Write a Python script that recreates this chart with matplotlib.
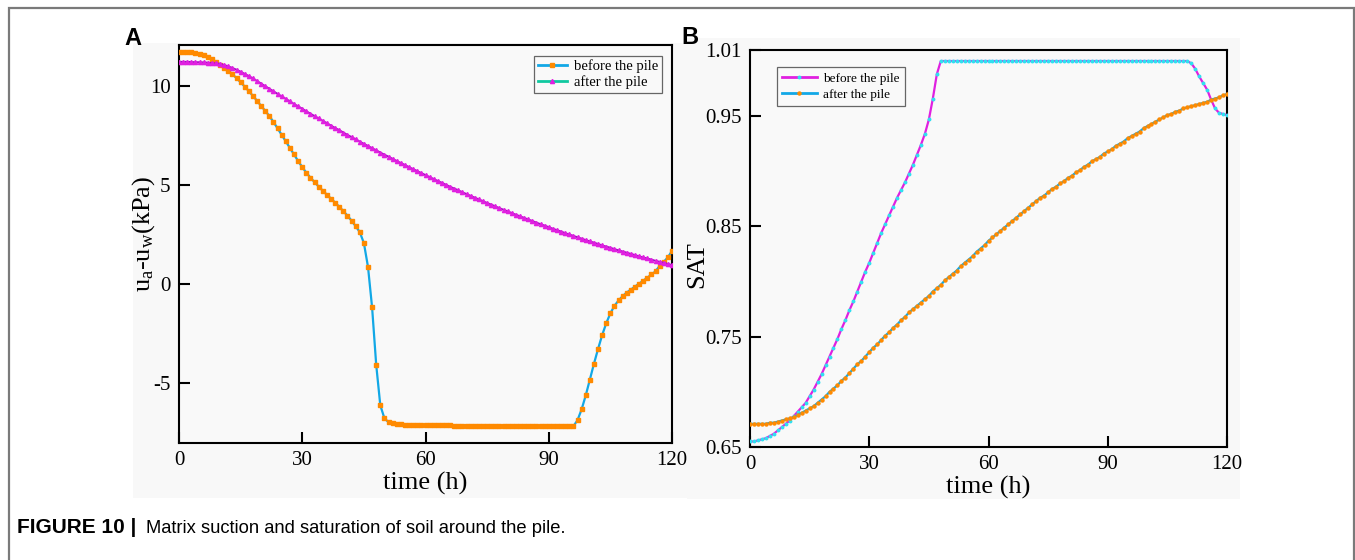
import numpy as np
import matplotlib
matplotlib.use("Agg")
import matplotlib.pyplot as plt
from matplotlib.lines import Line2D
from matplotlib.patches import Rectangle

plt.rcParams['font.family'] = ['Liberation Serif', 'DejaVu Serif']
plt.rcParams['mathtext.fontset'] = 'custom'
plt.rcParams['mathtext.rm'] = 'Liberation Serif'
plt.rcParams['mathtext.it'] = 'Liberation Serif:italic'

# ---------------- data (hourly) ----------------
hours = list(range(0, 121))

# panel A: matrix suction u_a - u_w (kPa)
suction_before = [
    11.70, 11.70, 11.70, 11.68, 11.65, 11.60, 11.53, 11.44, 11.33, 11.20,
    11.06, 10.91, 10.75, 10.57, 10.38, 10.17, 9.95, 9.72, 9.48, 9.23,
    8.97, 8.72, 8.46, 8.16, 7.84, 7.51, 7.18, 6.85, 6.52, 6.19,
    5.88, 5.60, 5.35, 5.12, 4.90, 4.69, 4.49, 4.29, 4.09, 3.88,
    3.66, 3.43, 3.18, 2.90, 2.60, 2.05, 0.85, -1.20, -4.10, -6.15,
    -6.80, -7.00, -7.06, -7.09, -7.11, -7.12, -7.13, -7.13, -7.14, -7.14,
    -7.15, -7.15, -7.15, -7.16, -7.16, -7.16, -7.16, -7.17, -7.17, -7.17,
    -7.17, -7.17, -7.18, -7.18, -7.18, -7.18, -7.18, -7.18, -7.19, -7.19,
    -7.19, -7.19, -7.19, -7.19, -7.19, -7.20, -7.20, -7.20, -7.20, -7.20,
    -7.20, -7.20, -7.20, -7.20, -7.20, -7.20, -7.20, -6.90, -6.35, -5.65,
    -4.85, -4.05, -3.30, -2.60, -2.00, -1.50, -1.12, -0.85, -0.63, -0.45,
    -0.30, -0.15, 0.00, 0.15, 0.30, 0.46, 0.62, 0.90, 1.10, 1.33,
    1.65,
]
suction_after = [
    11.20, 11.20, 11.20, 11.19, 11.18, 11.18, 11.17, 11.16, 11.14, 11.12,
    11.10, 11.04, 10.97, 10.89, 10.80, 10.70, 10.59, 10.48, 10.36, 10.23,
    10.10, 9.97, 9.84, 9.71, 9.58, 9.45, 9.33, 9.20, 9.07, 8.95,
    8.83, 8.70, 8.58, 8.46, 8.34, 8.22, 8.10, 7.98, 7.86, 7.75,
    7.63, 7.51, 7.40, 7.29, 7.17, 7.06, 6.95, 6.84, 6.73, 6.62,
    6.51, 6.41, 6.30, 6.19, 6.09, 5.99, 5.88, 5.78, 5.68, 5.58,
    5.48, 5.38, 5.28, 5.18, 5.09, 4.99, 4.89, 4.80, 4.71, 4.61,
    4.52, 4.43, 4.34, 4.25, 4.16, 4.07, 3.99, 3.90, 3.81, 3.73,
    3.65, 3.56, 3.48, 3.40, 3.32, 3.24, 3.16, 3.08, 3.00, 2.93,
    2.85, 2.77, 2.70, 2.63, 2.55, 2.48, 2.41, 2.34, 2.27, 2.20,
    2.13, 2.07, 2.00, 1.93, 1.87, 1.81, 1.74, 1.68, 1.62, 1.56,
    1.50, 1.44, 1.38, 1.32, 1.27, 1.21, 1.15, 1.10, 1.05, 0.99,
    0.94,
]

# panel B: saturation
sat_before = [
    0.655, 0.655, 0.656, 0.657, 0.658, 0.660, 0.662, 0.665, 0.668, 0.671,
    0.674, 0.678, 0.682, 0.686, 0.690, 0.696, 0.702, 0.709, 0.716, 0.724,
    0.732, 0.740, 0.748, 0.757, 0.765, 0.774, 0.782, 0.791, 0.800, 0.809,
    0.817, 0.826, 0.835, 0.844, 0.852, 0.860, 0.868, 0.876, 0.883, 0.890,
    0.898, 0.906, 0.915, 0.924, 0.934, 0.947, 0.966, 0.988, 1.000, 1.000,
    1.000, 1.000, 1.000, 1.000, 1.000, 1.000, 1.000, 1.000, 1.000, 1.000,
    1.000, 1.000, 1.000, 1.000, 1.000, 1.000, 1.000, 1.000, 1.000, 1.000,
    1.000, 1.000, 1.000, 1.000, 1.000, 1.000, 1.000, 1.000, 1.000, 1.000,
    1.000, 1.000, 1.000, 1.000, 1.000, 1.000, 1.000, 1.000, 1.000, 1.000,
    1.000, 1.000, 1.000, 1.000, 1.000, 1.000, 1.000, 1.000, 1.000, 1.000,
    1.000, 1.000, 1.000, 1.000, 1.000, 1.000, 1.000, 1.000, 1.000, 1.000,
    1.000, 0.998, 0.993, 0.986, 0.980, 0.974, 0.965, 0.957, 0.953, 0.952,
    0.951,
]
sat_after = [
    0.671, 0.671, 0.671, 0.671, 0.671, 0.672, 0.672, 0.673, 0.674, 0.675,
    0.676, 0.677, 0.679, 0.681, 0.683, 0.685, 0.687, 0.690, 0.693, 0.696,
    0.700, 0.703, 0.706, 0.710, 0.713, 0.717, 0.721, 0.725, 0.728, 0.732,
    0.736, 0.740, 0.743, 0.747, 0.751, 0.754, 0.758, 0.761, 0.765, 0.768,
    0.772, 0.775, 0.778, 0.781, 0.784, 0.787, 0.791, 0.794, 0.797, 0.801,
    0.804, 0.807, 0.810, 0.814, 0.817, 0.820, 0.823, 0.827, 0.830, 0.833,
    0.837, 0.840, 0.843, 0.846, 0.849, 0.852, 0.855, 0.858, 0.861, 0.864,
    0.867, 0.870, 0.873, 0.876, 0.878, 0.881, 0.884, 0.886, 0.889, 0.891,
    0.894, 0.896, 0.899, 0.901, 0.904, 0.906, 0.909, 0.911, 0.913, 0.916,
    0.918, 0.920, 0.923, 0.925, 0.927, 0.930, 0.932, 0.934, 0.936, 0.939,
    0.941, 0.943, 0.945, 0.947, 0.949, 0.951, 0.952, 0.954, 0.955, 0.957,
    0.958, 0.959, 0.960, 0.961, 0.962, 0.963, 0.965, 0.966, 0.967, 0.969,
    0.970,
]

x_ticks = [0, 30, 60, 90, 120]
x_ticklabels = ['0', '30', '60', '90', '120']
a_yticks = [10, 5, 0, -5]
a_yticklabels = ['10', '5', '0', '-5']
b_yticks = [0.65, 0.75, 0.85, 0.95, 1.01]
b_yticklabels = ['0.65', '0.75', '0.85', '0.95', '1.01']
series_names = ['before the pile', 'after the pile']

# ---------------- figure ----------------
W, H = 1355, 560
fig = plt.figure(figsize=(W / 100, H / 100), dpi=100)
fig.patch.set_facecolor('white')


def fx(px):
    return px / W


def fy(py):
    return 1 - py / H


# outer frame and light grey panels (behind the axes)
fig.patches.append(Rectangle((fx(9), -0.05), fx(1345), fy(8) + 0.05,
                             transform=fig.transFigure, fill=False,
                             edgecolor='#7a7a7a', lw=1.6, zorder=-10))
fig.patches.append(Rectangle((fx(133), fy(498)), fx(687 - 133), (498 - 43) / H,
                             transform=fig.transFigure, facecolor='#f8f8f8',
                             edgecolor='none', zorder=-10))
fig.patches.append(Rectangle((fx(687), fy(499)), fx(1240 - 687), (499 - 38) / H,
                             transform=fig.transFigure, facecolor='#f8f8f8',
                             edgecolor='none', zorder=-10))

BLUE = '#12a8e6'
ORANGE = '#ff8a00'
MAGENTA = '#e020e0'
PURPLE = '#a010c0'
CYAN = '#30dff0'
GREEN = '#10c8a0'


def style_axes(ax, yticks, yticklabels):
    ax.set_facecolor('#f9f9f9')
    for s in ax.spines.values():
        s.set_linewidth(1.5)
        s.set_color('black')
    ax.set_xlim(0, 120)
    ax.set_xticks(x_ticks)
    ax.set_xticklabels(x_ticklabels)
    ax.set_yticks(yticks)
    ax.set_yticklabels(yticklabels)
    ax.tick_params(direction='in', length=8, width=1.5, labelsize=15,
                   top=False, right=False, pad=6)
    ax.set_xlabel('time (h)', fontsize=19, labelpad=1)


def style_legend(leg):
    leg.get_frame().set_edgecolor('#666666')
    leg.get_frame().set_facecolor('#f9f9f9')
    leg.get_frame().set_linewidth(0.9)


# ---- panel A ----
axA = fig.add_axes([fx(179), fy(443), fx(672 - 179), (443 - 45) / H])
axA.plot(hours, suction_before, color=BLUE, lw=1.6, marker='s', ms=2.6,
         mfc=ORANGE, mec=ORANGE, zorder=3)
axA.plot(hours, suction_after, color=PURPLE, lw=1.4, marker='^', ms=3.0,
         mfc=MAGENTA, mec=MAGENTA, zorder=3)
axA.set_ylim(-8.05, 12.05)
style_axes(axA, a_yticks, a_yticklabels)
axA.set_ylabel(r'u$_{\mathrm{a}}$-u$_{\mathrm{w}}$(kPa)', fontsize=19)
axA.yaxis.set_label_coords(-0.045, 0.525)
handlesA = [Line2D([], [], color=BLUE, lw=2, marker='s', ms=2.6, mfc=ORANGE, mec=ORANGE),
            Line2D([], [], color=GREEN, lw=2, marker='^', ms=3.0, mfc=MAGENTA, mec=MAGENTA)]
legA = axA.legend(handlesA, series_names, loc='upper right',
                  bbox_to_anchor=(fx(662), fy(56)), bbox_transform=fig.transFigure,
                  borderaxespad=0, fontsize=10.5, fancybox=False, framealpha=1,
                  handlelength=2.0, handletextpad=0.5, borderpad=0.25,
                  labelspacing=0.15)
style_legend(legA)

# ---- panel B ----
axB = fig.add_axes([fx(750), fy(447), fx(1227 - 750), (447 - 50) / H])
axB.plot(hours, sat_before, color=MAGENTA, lw=1.6, marker='o', ms=1.8,
         mfc=CYAN, mec=CYAN, zorder=3)
axB.plot(hours, sat_after, color=BLUE, lw=1.6, marker='o', ms=2.2,
         mfc=ORANGE, mec=ORANGE, zorder=3)
axB.set_ylim(0.65, 1.01)
style_axes(axB, b_yticks, b_yticklabels)
axB.set_ylabel('SAT', fontsize=19)
axB.yaxis.set_label_coords(-0.088, 0.46)
handlesB = [Line2D([], [], color=MAGENTA, lw=2, marker='o', ms=1.8, mfc=CYAN, mec=CYAN),
            Line2D([], [], color=BLUE, lw=2, marker='o', ms=2.2, mfc=ORANGE, mec=ORANGE)]
legB = axB.legend(handlesB, series_names, loc='upper left',
                  bbox_to_anchor=(fx(777), fy(67)), bbox_transform=fig.transFigure,
                  borderaxespad=0, fontsize=9.5, fancybox=False, framealpha=1,
                  handlelength=2.6, handletextpad=0.5, borderpad=0.4,
                  labelspacing=0.3)
style_legend(legB)

# panel letters and caption
fig.text(fx(124), fy(45), 'A', fontsize=17, fontweight='bold',
         family=['Liberation Sans', 'DejaVu Sans'], va='baseline')
fig.text(fx(681), fy(44), 'B', fontsize=17, fontweight='bold',
         family=['Liberation Sans', 'DejaVu Sans'], va='baseline')
fig.text(fx(17), fy(533), 'FIGURE 10 |', fontsize=15, fontweight='bold',
         family=['Liberation Sans', 'DejaVu Sans'], va='baseline')
fig.text(fx(146), fy(533), 'Matrix suction and saturation of soil around the pile.',
         fontsize=13.2, family=['Liberation Sans', 'DejaVu Sans'], va='baseline')

fig.savefig('out.png', dpi=100)
